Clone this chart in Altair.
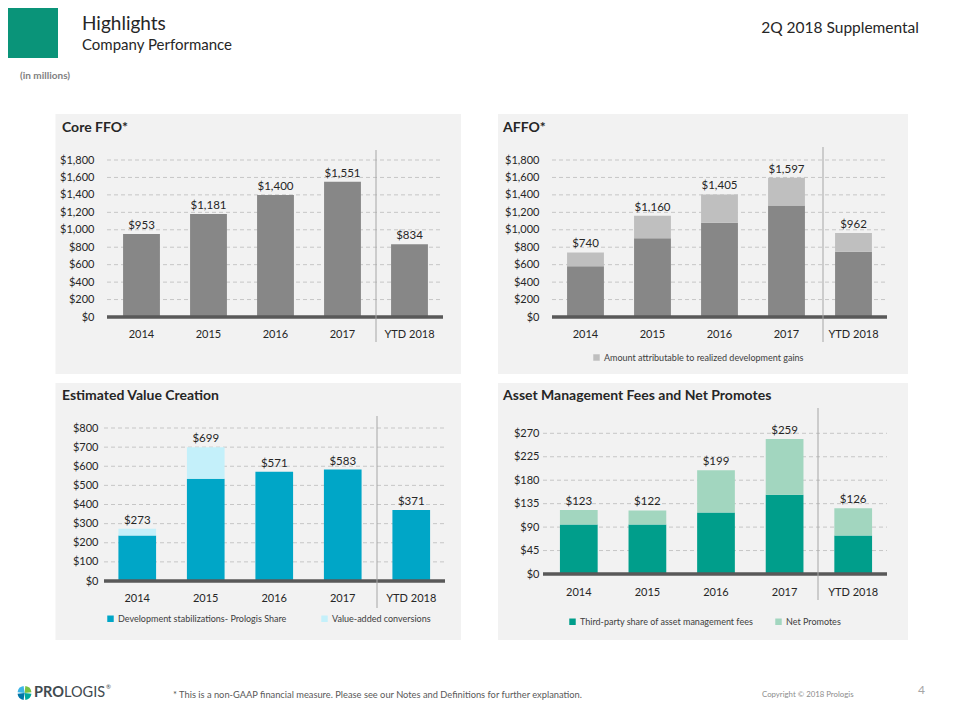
import altair as alt
import pandas as pd

FONT = "Lato"
TXT = "#262626"
GRID = "#c6c6c6"
BASE = "#595959"
SEP = "#a6a6a6"
PANEL_BG = "#f2f2f2"

years = ["2014", "2015", "2016", "2017", "YTD 2018"]

# Core FFO
core_ffo = [953, 1181, 1400, 1551, 834]

# AFFO
affo_series = ["AFFO excluding development gains", "Amount attributable to realized development gains"]
affo_base = [582, 904, 1080, 1279, 747]
affo_gains = [158, 256, 325, 318, 215]
affo_total = [740, 1160, 1405, 1597, 962]

# Estimated Value Creation
evc_series = ["Development stabilizations- Prologis Share", "Value-added conversions"]
evc_dev = [238, 535, 571, 583, 371]
evc_va = [35, 164, 0, 0, 0]
evc_total = [273, 699, 571, 583, 371]

# Asset Management Fees and Net Promotes
am_series = ["Third-party share of asset management fees", "Net Promotes"]
am_fees = [95, 95, 118, 152, 74]
am_promotes = [28, 27, 81, 107, 52]
am_total = [123, 122, 199, 259, 126]

ticks_1800 = [0, 200, 400, 600, 800, 1000, 1200, 1400, 1600, 1800]
ticks_800 = [0, 100, 200, 300, 400, 500, 600, 700, 800]
ticks_270 = [0, 45, 90, 135, 180, 225, 270]

one = pd.DataFrame({"d": [0]})


def rect(x, x2, y, y2, color):
    return alt.Chart(one).mark_rect(color=color).encode(
        x=alt.value(x), x2=alt.value(x2), y=alt.value(y), y2=alt.value(y2))


def text(t, x, y, size, color=TXT, weight="normal", align="left", font=FONT):
    return alt.Chart(one).mark_text(
        text=t, align=align, baseline="middle", fontSize=size, font=font,
        fontWeight=weight, color=color).encode(x=alt.value(x), y=alt.value(y))


def vline(x, y, y2):
    return alt.Chart(one).mark_rule(color=SEP, strokeWidth=1).encode(
        x=alt.value(x), y=alt.value(y), y2=alt.value(y2))


def panel(title, bars_df, totals, ticks, ydomain, width, height, xrange, yrange,
          grid_x, sep, bg, title_pos, ylab_pad, xlab_pad, colors=None,
          series=None, legend=None):
    xs = alt.Scale(domain=years, range=xrange, paddingInner=0.45, paddingOuter=0.225)
    ys = alt.Scale(domain=ydomain, range=yrange, nice=False, zero=True)
    xaxis = alt.Axis(title=None, domain=False, ticks=False, tickSize=0, labelAngle=0,
                     labelPadding=xlab_pad, labelFont=FONT, labelFontSize=11,
                     labelColor=TXT, grid=False, zindex=1)
    yaxis = alt.Axis(title=None, domain=False, ticks=False, tickSize=0, values=ticks,
                     format="$,.0f", labelPadding=ylab_pad, labelFont=FONT,
                     labelFontSize=11, labelColor=TXT, grid=False, zindex=1)
    layers = []
    layers.append(rect(bg[0], bg[1], bg[2], bg[3], PANEL_BG))
    layers.append(text(title, title_pos[0], title_pos[1], 14, weight="bold"))
    grid = alt.Chart(pd.DataFrame({"v": ticks[1:]})).mark_rule(
        color=GRID, strokeDash=[4, 3], strokeWidth=1).encode(
        y=alt.Y("v:Q", scale=ys, axis=yaxis),
        x=alt.value(grid_x[0]), x2=alt.value(grid_x[1]))
    layers.append(grid)
    if colors is None:
        bars = alt.Chart(bars_df).mark_bar(color="#878787").encode(
            x=alt.X("year:N", sort=years, scale=xs, axis=xaxis),
            y=alt.Y("value:Q", scale=ys, axis=yaxis))
    else:
        bars = alt.Chart(bars_df).mark_bar().encode(
            x=alt.X("year:N", sort=years, scale=xs, axis=xaxis),
            y=alt.Y("value:Q", stack="zero", scale=ys, axis=yaxis),
            color=alt.Color("series:N", scale=alt.Scale(domain=series, range=colors),
                            legend=legend),
            order=alt.Order("k:Q", sort="ascending"))
    layers.append(bars)
    base = alt.Chart(pd.DataFrame({"v": [0]})).mark_rule(
        color=BASE, strokeWidth=3.5).encode(
        y=alt.Y("v:Q", scale=ys, axis=yaxis),
        x=alt.value(grid_x[0]), x2=alt.value(grid_x[1]))
    layers.append(base)
    labels = alt.Chart(pd.DataFrame({"year": years, "total": totals})).mark_text(
        baseline="middle", dy=-8, fontSize=11.5, font=FONT, color=TXT).encode(
        x=alt.X("year:N", sort=years, scale=xs, axis=xaxis),
        y=alt.Y("total:Q", scale=ys, axis=yaxis),
        text=alt.Text("total:Q", format="$,.0f"))
    layers.append(labels)
    layers.append(vline(sep[0], sep[1], sep[2]))
    return layers, width, height


def long_df(a, b):
    rows = []
    for i, y in enumerate(years):
        rows.append({"year": y, "series": a[0], "value": a[1][i], "k": 0})
        rows.append({"year": y, "series": b[0], "value": b[1][i], "k": 1})
    return pd.DataFrame(rows)


def legend_opts(col_pad):
    return dict(orient="none", direction="horizontal", title=None,
                symbolType="square", symbolSize=42, symbolStrokeWidth=0,
                labelFont=FONT, labelFontSize=9, labelColor="#404040",
                labelOffset=3, columnPadding=col_pad, padding=0, labelLimit=500)

# Layout grid (page coords): column 1 plot left 103, column 2 plot left 544;
# row 1 plot top 160, row 2 plot top 428.

# ---- Panel 1: Core FFO (plot origin at page 103,160) ----
l1, w1, h1 = panel("Core FFO*", pd.DataFrame({"year": years, "value": core_ffo}),
                   core_ffo, ticks_1800, [0, 1800], 342, 157, [5, 340], [157, 0],
                   (4, 340), (273, -10, 182), (-47.5, 358, -46, 214), (-41, -32), 9, 11)
page = [rect(-95, 849, -152, 552, "white"),
        rect(-95, -45, -152, -102, "#0a9479"),
        text("Highlights", -21, -136, 19),
        text("Company Performance", -21, -115, 15),
        text("(in millions)", -83, -84.5, 10, color="#7f7f7f", weight="bold"),
        text("2Q 2018 Supplemental", 816, -132, 15.5, align="right"),
        text("* This is a non-GAAP financial measure. Please see our Notes and Definitions for further explanation.",
             70, 535, 9.3, color="#595959"),
        text("Copyright \u00a9 2018 Prologis", 659, 535, 7.8, color="#8c8c8c"),
        text("4", 815, 530, 12, color="#a6a6a6"),
        text("PRO", -69, 533, 14.5, color="#3f4a50", weight="bold"),
        text("LOGIS", -39, 533, 14.5, color="#3f4a50"),
        text("\u00ae", 3, 527, 6, color="#3f4a50"),
        alt.Chart(pd.DataFrame({"s": ["a", "b", "c", "d"], "t": [1, 1, 1, 1]})).mark_arc(
            outerRadius=7, padAngle=0.25).encode(
            theta=alt.Theta("t:Q"),
            color=alt.Color("s:N", scale=alt.Scale(domain=["a", "b", "c", "d"],
                            range=["#7ac143", "#00a99d", "#0076a8", "#3db5e6"]), legend=None),
            x=alt.value(-78.5), y=alt.value(533))]
p1 = alt.layer(*(page + l1)).properties(width=w1, height=h1)

# ---- Panel 2: AFFO (plot origin at page 544,160) ----
l2, w2, h2 = panel("AFFO*", long_df((affo_series[0], affo_base), (affo_series[1], affo_gains)),
                   affo_total, ticks_1800, [0, 1800], 343, 157, [8, 343], [157, 0],
                   (8, 343), (279, -13, 182), (-46, 364, -46, 214), (-41, -32), 5, 11,
                   colors=["#878787", "#bfbfbf"], series=affo_series,
                   legend=alt.Legend(values=[affo_series[1]], legendX=48, legendY=193,
                                     **legend_opts(23)))
p2 = alt.layer(*l2).properties(width=w2, height=h2)

# ---- Panel 3: Estimated Value Creation (plot origin at page 103,428) ----
l3, w3, h3 = panel("Estimated Value Creation",
                   long_df((evc_series[0], evc_dev), (evc_series[1], evc_va)),
                   evc_total, ticks_800, [0, 800], 342, 153, [0, 342.5], [153, 0],
                   (1, 342), (274, -12, 180), (-47.5, 358, -45, 212), (-41, -32), 5, 11,
                   colors=["#00a6c7", "#c4f0fa"], series=evc_series,
                   legend=alt.Legend(legendX=3, legendY=186, columns=2, **legend_opts(33)))
p3 = alt.layer(*l3).properties(width=w3, height=h3)

# ---- Panel 4: Asset Management Fees and Net Promotes (plot origin at page 544,428) ----
l4, w4, h4 = panel("Asset Management Fees and Net Promotes",
                   long_df((am_series[0], am_fees), (am_series[1], am_promotes)),
                   am_total, ticks_270, [0, 270], 343, 146, [0.5, 343.5], [146, 5.3],
                   (-1, 343), (274, -20, 172), (-46, 364, -45, 212), (-41, -32), 5, 12,
                   colors=["#009e8b", "#a2d6bf"], series=am_series,
                   legend=alt.Legend(legendX=24, legendY=189, columns=2, **legend_opts(20)))
p4 = alt.layer(*l4).properties(width=w4, height=h4)

chart = alt.concat(p1, p2, p3, p4, columns=2, spacing={"row": 111, "column": 99},
                   bounds="flush").resolve_scale(
    x="independent", y="independent", color="independent").resolve_legend(
    color="independent").properties(padding=0).configure_view(strokeWidth=0)

chart.save("out.html", embed_options={"renderer": "svg", "actions": False})
